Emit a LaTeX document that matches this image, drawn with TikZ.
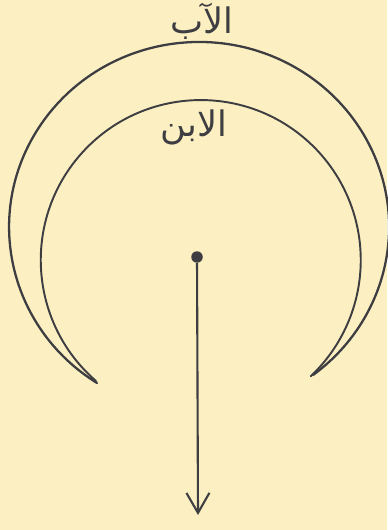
\documentclass[tikz,border=0pt]{standalone}
\usepackage{fontspec}
\usetikzlibrary{arrows.meta}
\TeXXeTstate=1
\newfontfamily\arabicfont[Script=Arabic]{DejaVu Sans}
\definecolor{SkPaper}{RGB}{252,240,194}
\definecolor{SkInk}{RGB}{62,62,66}
\tikzset{
  sk/arc/.style={
    draw=SkInk,
    line width=1.3pt,
    line cap=round
  },
  sk/label/.style={
    text=SkInk,
    inner sep=0pt,
    font=\arabicfont\fontsize{20}{24}\selectfont
  },
  sk/dot/.style={circle, fill=SkInk, inner sep=0pt, minimum size=2.3mm},
  sk/arrow/.style={-{Straight Barb[length=4mm,width=4.6mm]}, line width=1.2pt, draw=SkInk}
}

\begin{document}
\begin{tikzpicture}[x=0.02cm,y=-0.02cm]
  \fill[SkPaper] (0,0) rectangle (387,530);
  \useasboundingbox (0,0) rectangle (387,530);
  \draw[sk/arc] (97,383) arc[start angle=122.5, end angle=413.1, x radius=190, y radius=185];
  \draw[sk/arc,line width=1.1pt] (96,381) arc[start angle=130.9, end angle=406.5, radius=160];
  \node[sk/label] (father) at (202,21) {\beginR الآب\endR};
  \node[sk/label] (son) at (194,127) {\beginR الابن\endR};
  \node[sk/dot] (origin) at (197,257) {};
  \coordinate (tip) at (198,515);
  \draw[sk/arrow] (origin) -- (tip);
\end{tikzpicture}
\end{document}
